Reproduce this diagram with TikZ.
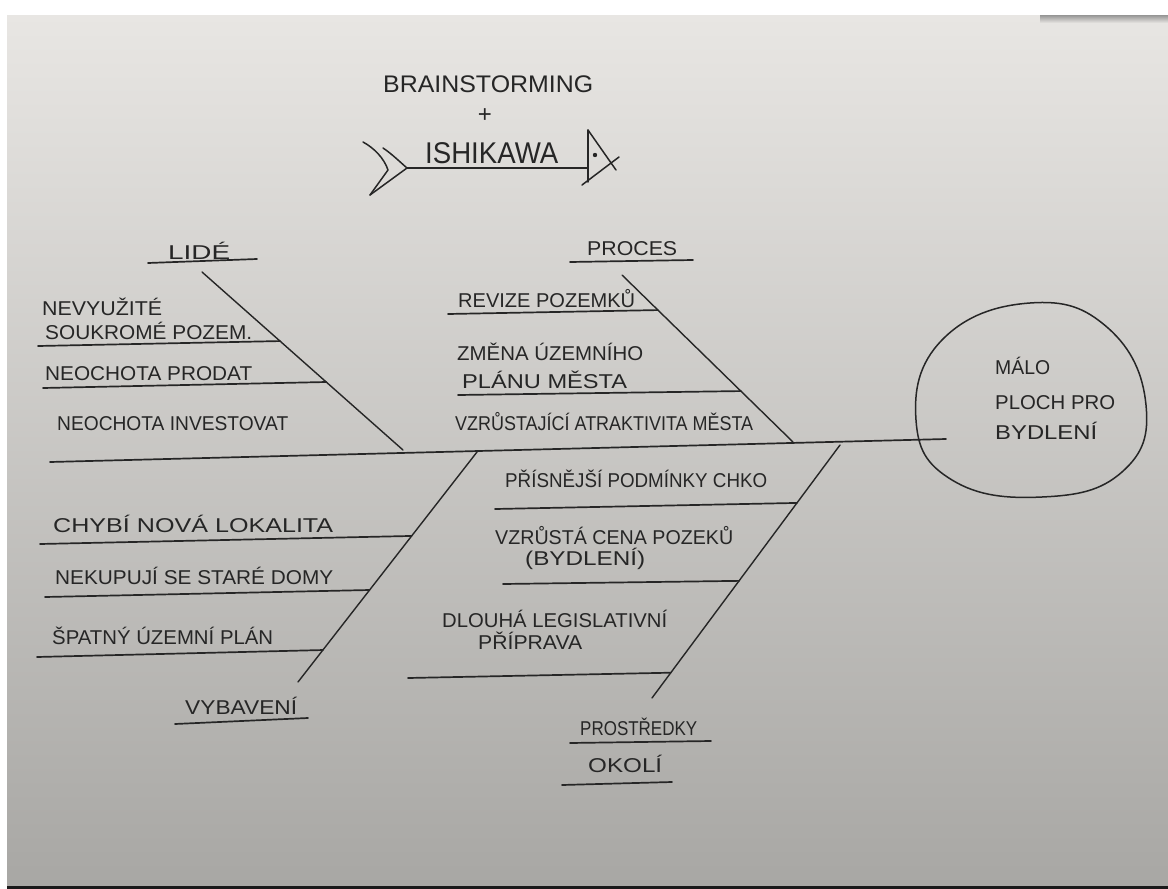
\documentclass[tikz,border=0pt]{standalone}
\usepackage{fontspec}
\setmainfont{Liberation Sans}
\usetikzlibrary{calc}
\definecolor{paperT}{HTML}{E8E6E3}
\definecolor{paperM}{HTML}{DAD8D5}
\definecolor{paperB}{HTML}{A8A7A4}
\definecolor{ink}{HTML}{262626}
\newcommand{\fitw}[2]{\resizebox{#1}{\height}{#2}}
\begin{document}
\begin{tikzpicture}[x=1pt,y=-1pt,
  lbl/.style={inner sep=0pt, anchor=base west, text=ink, font=\fontsize{20}{22}\selectfont},
  bigl/.style={lbl, font=\fontsize{24}{26}\selectfont},
  bone/.style={draw=ink, line width=1.4pt, line cap=round},
  rib/.style={draw=ink, line width=1.7pt, line cap=round},
  pen/.style={draw=ink, line width=1.5pt, line cap=round, line join=round},
]
\fill[white] (0,0) rectangle (1168,889);
\useasboundingbox (0,0) rectangle (1168,889);
% the sheet of paper
\shade[top color=paperT, middle color=paperM, bottom color=paperB] (7,15) rectangle (1168,886);
\shade[top color=black!55, bottom color=paperT, opacity=0.7] (1040,15) rectangle (1168,23);
\fill[black!90] (7,886) rectangle (1168,889);

% ---------- title ----------
\node[bigl] (brain) at (383,92) {\fitw{210pt}{BRAINSTORMING}};
\node[bigl, anchor=center] (plus) at (485,116) {+};
\node[lbl, font=\fontsize{30}{32}\selectfont] (ishi) at (425,163) {\fitw{133pt}{ISHIKAWA}};
% arrow of the title
\coordinate (tA) at (363,142);
\coordinate (tB) at (388,170);
\coordinate (tC) at (383,148);
\coordinate (tD) at (407,168);
\coordinate (tE) at (370,195);
\coordinate (hV1) at (588,130);
\coordinate (hV2) at (588,182);
\coordinate (hT) at (616,170);
\coordinate (hL1) at (582,185);
\coordinate (hL2) at (619,157);
\draw[pen] (tA) .. controls (374,148) and (384,158) .. (tB) -- (tE);
\draw[pen] (tC) .. controls (392,154) and (400,162) .. (tD) -- (tE);
\draw[pen] (tD) -- (hV1 |- tD);
\draw[pen] (hV1) -- (hV2);
\draw[pen] (hV1) -- (hT);
\draw[pen] (hL1) -- (hL2);
\fill[ink] (595,155) circle (2.2pt);

% ---------- spine and effect ----------
\coordinate (sL) at (50,462);
\coordinate (sR) at (946,439);
\draw[rib] (sL) -- (sR);
\draw[pen] plot[smooth cycle, tension=0.75] coordinates {(1030,303) (1108,328) (1146,405) (1122,472) (1042,497) (952,480) (916,420) (942,340)};
\node[lbl] (eff1) at (995,374) {\fitw{55pt}{MÁLO}};
\node[lbl] (eff2) at (995,409) {\fitw{120pt}{PLOCH PRO}};
\node[lbl] (eff3) at (995,439) {\fitw{102pt}{BYDLENÍ}};

% ---------- LIDÉ (upper left) ----------
\coordinate (b1t) at (202,272);
\coordinate (b1b) at (403,450);
\draw[bone] (b1t) -- (b1b);
\node[lbl] (lide) at (168,259) {\fitw{62pt}{LIDÉ}};
\coordinate (u1a) at (148,263);
\coordinate (u1b) at (257,259);
\draw[rib] (u1a) -- (u1b);
\node[lbl] (l11) at (42,315) {\fitw{120pt}{NEVYUŽITÉ}};
\node[lbl] (l12) at (45,339) {\fitw{207pt}{SOUKROMÉ POZEM.}};
\coordinate (r11) at (38,346);
\draw[rib] (r11) -- ($(b1t)!0.388!(b1b)$);
\node[lbl] (l13) at (45,380) {\fitw{207pt}{NEOCHOTA PRODAT}};
\coordinate (r12) at (43,388);
\draw[rib] (r12) -- ($(b1t)!0.618!(b1b)$);
\node[lbl] (l14) at (57,430) {\fitw{231pt}{NEOCHOTA INVESTOVAT}};

% ---------- PROCES (upper right) ----------
\coordinate (b2t) at (622,275);
\coordinate (b2b) at (793,442);
\draw[bone] (b2t) -- (b2b);
\node[lbl] (proces) at (587,255) {\fitw{90pt}{PROCES}};
\coordinate (u2a) at (570,262);
\coordinate (u2b) at (693,260);
\draw[rib] (u2a) -- (u2b);
\node[lbl] (l21) at (458,307) {\fitw{177pt}{REVIZE POZEMKŮ}};
\coordinate (r21) at (448,314);
\draw[rib] (r21) -- ($(b2t)!0.21!(b2b)$);
\node[lbl] (l22) at (457,360) {\fitw{186pt}{ZMĚNA ÚZEMNÍHO}};
\node[lbl] (l23) at (462,388) {\fitw{165pt}{PLÁNU MĚSTA}};
\coordinate (r22) at (458,395);
\draw[rib] (r22) -- ($(b2t)!0.695!(b2b)$);
\node[lbl] (l24) at (455,430) {\fitw{298pt}{VZRŮSTAJÍCÍ ATRAKTIVITA MĚSTA}};

% ---------- VYBAVENÍ (lower left) ----------
\coordinate (b3t) at (477,452);
\coordinate (b3b) at (298,682);
\draw[bone] (b3t) -- (b3b);
\node[lbl] (vyb) at (185,714) {\fitw{112pt}{VYBAVENÍ}};
\coordinate (u3a) at (175,724);
\coordinate (u3b) at (308,718);
\draw[rib] (u3a) -- (u3b);
\node[lbl] (l31) at (53,532) {\fitw{280pt}{CHYBÍ NOVÁ LOKALITA}};
\coordinate (r31) at (40,544);
\draw[rib] (r31) -- ($(b3t)!0.365!(b3b)$);
\node[lbl] (l32) at (55,584) {\fitw{278pt}{NEKUPUJÍ SE STARÉ DOMY}};
\coordinate (r32) at (45,597);
\draw[rib] (r32) -- ($(b3t)!0.6!(b3b)$);
\node[lbl] (l33) at (52,644) {\fitw{221pt}{ŠPATNÝ ÚZEMNÍ PLÁN}};
\coordinate (r33) at (37,657);
\draw[rib] (r33) -- ($(b3t)!0.861!(b3b)$);

% ---------- PROSTŘEDKY / OKOLÍ (lower right) ----------
\coordinate (b4t) at (840,445);
\coordinate (b4b) at (652,698);
\draw[bone] (b4t) -- (b4b);
\node[lbl] (l41) at (505,487) {\fitw{262pt}{PŘÍSNĚJŠÍ PODMÍNKY CHKO}};
\coordinate (r41) at (495,509);
\draw[rib] (r41) -- ($(b4t)!0.229!(b4b)$);
\node[lbl] (l42) at (495,544) {\fitw{238pt}{VZRŮSTÁ CENA POZEKŮ}};
\node[lbl] (l43) at (525,565) {\fitw{120pt}{(BYDLENÍ)}};
\coordinate (r42) at (503,584);
\draw[rib] (r42) -- ($(b4t)!0.537!(b4b)$);
\node[lbl] (l44) at (442,627) {\fitw{225pt}{DLOUHÁ LEGISLATIVNÍ}};
\node[lbl] (l45) at (478,649) {\fitw{104pt}{PŘÍPRAVA}};
\coordinate (r43) at (408,678);
\draw[rib] (r43) -- ($(b4t)!0.90!(b4b)$);
\node[lbl] (prost) at (580,735) {\fitw{117pt}{PROSTŘEDKY}};
\coordinate (u4a) at (570,743);
\coordinate (u4b) at (711,741);
\draw[rib] (u4a) -- (u4b);
\node[lbl] (okoli) at (588,772) {\fitw{74pt}{OKOLÍ}};
\coordinate (u5a) at (562,785);
\coordinate (u5b) at (672,782);
\draw[rib] (u5a) -- (u5b);
\end{tikzpicture}
\end{document}
